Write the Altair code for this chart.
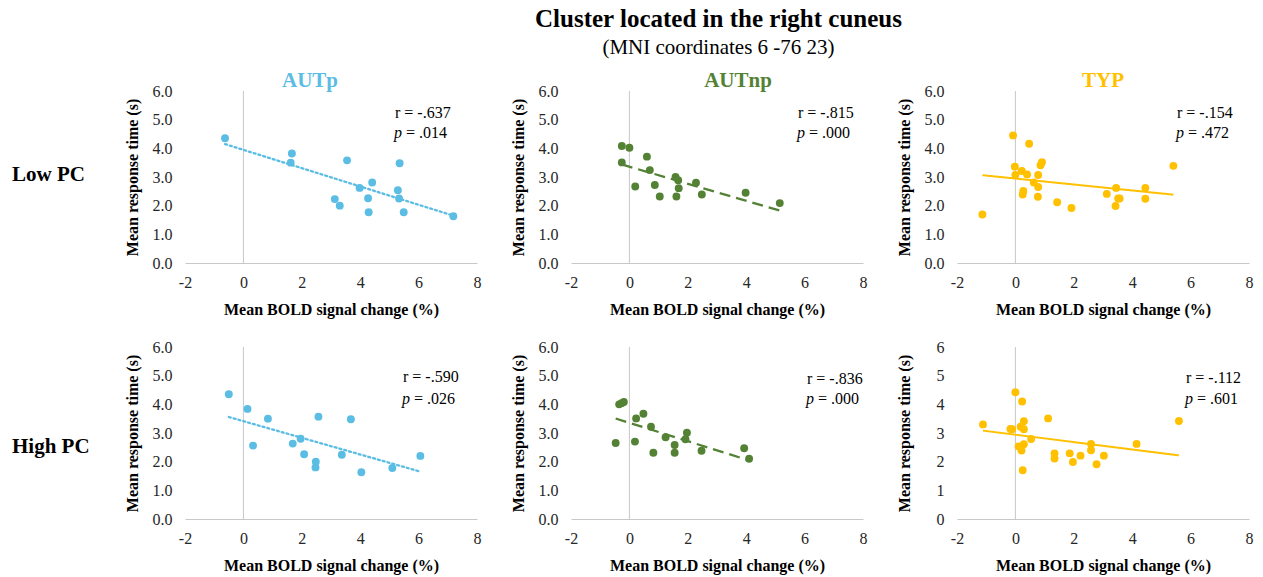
import altair as alt
import pandas as pd

FONT = "Liberation Serif"

groups = ["AUTp", "AUTnp", "TYP"]
rows = ["Low PC", "High PC"]
colors = {"AUTp": "#5BBDE4", "AUTnp": "#548235", "TYP": "#FFC000"}
dashes = {"AUTp": [2, 3], "AUTnp": [11, 6], "TYP": [1, 0]}

# ---- Low PC ----
low_autp_x = [-0.63, 1.66, 1.62, 3.55, 5.35, 4.41, 3.98, 5.29, 3.13, 4.27, 5.33, 3.30, 4.29, 5.49, 7.19]
low_autp_y = [4.35, 3.82, 3.50, 3.58, 3.48, 2.81, 2.62, 2.54, 2.23, 2.26, 2.25, 2.00, 1.77, 1.77, 1.63]

low_autnp_x = [-0.26, 0.00, -0.26, 0.60, 0.70, 0.20, 0.87, 1.04, 1.58, 1.67, 1.69, 1.61, 2.28, 2.48, 3.98, 5.15]
low_autnp_y = [4.08, 4.02, 3.51, 3.71, 3.24, 2.67, 2.72, 2.32, 3.00, 2.89, 2.61, 2.32, 2.80, 2.39, 2.45, 2.09]

low_typ_x = [-1.13, -0.08, -0.02, 0.00, 0.22, 0.40, 0.47, 0.27, 0.25, 0.78, 0.63, 0.78, 0.77,
             0.86, 0.91, 1.43, 1.92, 3.13, 3.45, 3.43, 3.52, 3.57, 4.45, 4.45, 5.41]
low_typ_y = [1.69, 4.45, 3.36, 3.07, 3.21, 3.09, 4.16, 2.51, 2.39, 3.07, 2.81, 2.65, 2.31,
             3.41, 3.52, 2.12, 1.92, 2.41, 2.62, 1.99, 2.25, 2.25, 2.62, 2.24, 3.39]

# ---- High PC ----
high_autp_x = [-0.50, 0.14, 0.33, 0.84, 1.69, 1.96, 2.08, 2.48, 2.47, 2.57, 3.37, 3.68, 4.04, 5.10, 6.06]
high_autp_y = [4.35, 3.84, 2.56, 3.50, 2.63, 2.80, 2.26, 2.00, 1.80, 3.57, 2.24, 3.48, 1.63, 1.78, 2.20]

high_autnp_x = [-0.47, -0.35, -0.27, -0.19, 0.19, 0.23, 0.48, 0.74, 0.82, 1.24, 1.55, 1.55, 1.92, 1.97, 2.47, 3.93, 4.10]
high_autnp_y = [2.65, 4.00, 4.04, 4.08, 2.70, 3.51, 3.67, 3.22, 2.31, 2.85, 2.58, 2.31, 2.78, 3.01, 2.38, 2.47, 2.10]

high_typ_x = [-1.11, -0.17, -0.11, 0.00, 0.23, 0.18, 0.29, 0.29, 0.11, 0.21, 0.29, 0.54, 0.25,
              1.12, 1.34, 1.34, 1.86, 1.97, 2.23, 2.59, 2.59, 2.78, 3.03, 4.15, 5.60]
high_typ_y = [3.30, 3.14, 3.13, 4.42, 4.10, 3.22, 3.13, 3.41, 2.53, 2.39, 2.61, 2.79, 1.70,
              3.51, 2.29, 2.11, 2.29, 1.99, 2.21, 2.62, 2.40, 1.91, 2.21, 2.62, 3.42]

r_texts = {
    ("Low PC", "AUTp"): "r = -.637", ("Low PC", "AUTnp"): "r = -.815", ("Low PC", "TYP"): "r = -.154",
    ("High PC", "AUTp"): "r = -.590", ("High PC", "AUTnp"): "r = -.836", ("High PC", "TYP"): "r = -.112",
}
p_texts = {
    ("Low PC", "AUTp"): "= .014", ("Low PC", "AUTnp"): "= .000", ("Low PC", "TYP"): "= .472",
    ("High PC", "AUTp"): "= .026", ("High PC", "AUTnp"): "= .000", ("High PC", "TYP"): "= .601",
}

data = {
    ("Low PC", "AUTp"): (low_autp_x, low_autp_y),
    ("Low PC", "AUTnp"): (low_autnp_x, low_autnp_y),
    ("Low PC", "TYP"): (low_typ_x, low_typ_y),
    ("High PC", "AUTp"): (high_autp_x, high_autp_y),
    ("High PC", "AUTnp"): (high_autnp_x, high_autnp_y),
    ("High PC", "TYP"): (high_typ_x, high_typ_y),
}

# annotation placement (pixels from the plot's top-left corner)
ann_pos = {
    ("Low PC", "AUTp"): (210, 22, 42), ("Low PC", "AUTnp"): (227, 22, 42), ("Low PC", "TYP"): (220, 22, 42),
    ("High PC", "AUTp"): (218, 30, 52), ("High PC", "AUTnp"): (236, 32, 52), ("High PC", "TYP"): (229, 31, 52),
}
title_dx = {"AUTp": -21, "AUTnp": 21, "TYP": 0}

W, H = 292, 172
GRAY = "#c8c8c8"
LABEL = "#262626"


def panel(row, grp):
    xs, ys = data[(row, grp)]
    df = pd.DataFrame({"x": xs, "y": ys})
    col = colors[grp]
    yfmt = "d" if (row, grp) == ("High PC", "TYP") else ".1f"
    xax = alt.Axis(values=[-2, 0, 2, 4, 6, 8], domain=True, domainColor=GRAY, domainWidth=1,
                   ticks=False, grid=False, labelFont=FONT, labelFontSize=16, labelColor=LABEL,
                   labelPadding=11, labelFlush=False, labelOverlap=False,
                   labelExpr="toString(datum.value)",
                   title="Mean BOLD signal change (%)",
                   titleFont=FONT, titleFontSize=16, titleFontWeight="bold", titleColor="black",
                   titleY=46, titleBaseline="middle")
    yax = alt.Axis(values=[0, 1, 2, 3, 4, 5, 6], format=yfmt, domain=False, ticks=False, grid=False,
                   labelFont=FONT, labelFontSize=16, labelColor=LABEL, labelPadding=13,
                   labelFlush=False, labelOverlap=False, title="Mean response time (s)",
                   titleFont=FONT, titleFontSize=16, titleFontWeight="bold", titleColor="black",
                   titleX=-53, titleY=H / 2, titleAngle=-90, titleAlign="center",
                   titleBaseline="middle")
    xs_ = alt.Scale(domain=[-2, 8], nice=False, zero=False)
    ys_ = alt.Scale(domain=[0, 6], nice=False)
    X = alt.X("x:Q", scale=xs_, axis=xax)
    Y = alt.Y("y:Q", scale=ys_, axis=yax)

    base = alt.Chart(df)
    pts = base.mark_circle(size=62, opacity=1, color=col).encode(x=X, y=Y)
    trend = base.transform_regression("x", "y").mark_line(
        color=col, strokeWidth=2.3 if grp != "TYP" else 2, strokeDash=dashes[grp],
        strokeCap="round" if grp == "AUTp" else "butt").encode(x=X, y=Y)
    vline = alt.Chart(pd.DataFrame({"x": [0], "y": [0], "y2": [6]})).mark_rule(
        color=GRAY, strokeWidth=1).encode(x=X, y=Y, y2="y2:Q")

    px, ry, py = ann_pos[(row, grp)]
    ann_df = pd.DataFrame({"r": [r_texts[(row, grp)]], "p": ["p"], "pv": [p_texts[(row, grp)]]})
    ann = alt.Chart(ann_df)
    t_r = ann.mark_text(align="left", baseline="middle", font=FONT, fontSize=16, color="black").encode(
        x=alt.value(px), y=alt.value(ry), text="r:N")
    t_p = ann.mark_text(align="left", baseline="middle", font=FONT, fontSize=16, fontStyle="italic",
                        color="black").encode(x=alt.value(px - 1), y=alt.value(py), text="p:N")
    t_pv = ann.mark_text(align="left", baseline="middle", font=FONT, fontSize=16, color="black").encode(
        x=alt.value(px + 11), y=alt.value(py), text="pv:N")

    layer = alt.layer(vline, trend, pts, t_r, t_p, t_pv).properties(width=W, height=H)
    if row == "Low PC":
        layer = layer.properties(title=alt.TitleParams(
            text=grp, color=col, font=FONT, fontSize=21, fontWeight="bold", anchor="middle",
            offset=-8, dx=title_dx[grp]))
    return layer


def row_label(row, ypos):
    return alt.Chart(pd.DataFrame({"label": [row]})).mark_text(
        align="left", baseline="middle", font=FONT, fontSize=21, fontWeight="bold", color="black"
    ).encode(x=alt.value(0), y=alt.value(ypos), text="label:N").properties(width=79, height=H)


row_y = {"Low PC": 84, "High PC": 100}
cells = []
for r in rows:
    cells.append(row_label(r, row_y[r]))
    cells.extend(panel(r, g) for g in groups)

chart = alt.concat(*cells, columns=4, spacing={"row": 84, "column": 94}, bounds="flush").properties(
    title=alt.TitleParams(
        text="Cluster located in the right cuneus", subtitle="(MNI coordinates 6 -76 23)",
        font=FONT, fontSize=25, fontWeight="bold", color="black", subtitleFont=FONT,
        subtitleFontSize=21, subtitleColor="black", subtitlePadding=5, anchor="middle",
        dx=86, offset=12),
    padding={"left": 12, "top": 7, "right": 5, "bottom": 5},
).configure_view(strokeWidth=0)

chart.save("out.html", embed_options={"renderer": "svg", "actions": False})
